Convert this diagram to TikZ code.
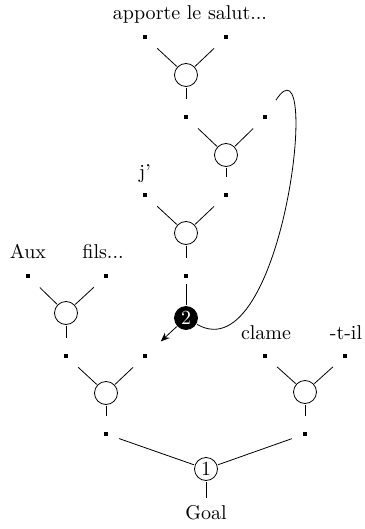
\documentclass[tikz,border=0pt]{standalone}
\usetikzlibrary{arrows.meta}
\begin{document}
\begin{tikzpicture}[x=0.5pt,y=-0.5pt,
  dotn/.style={rectangle,fill=black,minimum size=1.8pt,inner sep=0pt,outer sep=0pt},
  hub/.style={circle,draw,minimum size=11.5pt,inner sep=0pt,outer sep=0.6pt},
  blackhub/.style={hub,fill=black,text=white},
  labeltext/.style={anchor=base,inner sep=0pt},
  armline/.style={shorten <=7pt},
  stemline/.style={shorten >=8pt},
  lowline/.style={shorten <=6pt},
  arrowline/.style={-{Stealth[length=4.5pt,width=3.6pt]},shorten >=9.5pt},
  loopline/.style={shorten <=9pt}]
\useasboundingbox (0,0) rectangle (364,529);

% labels
\node[labeltext] (lapporte) at (190,20) {apporte le salut...};
\node[labeltext] (lj) at (145,179) {j'};
\node[labeltext] (laux) at (28,258.5) {Aux};
\node[labeltext] (lfils) at (103,258.5) {fils...};
\node[labeltext] (lclame) at (266,339) {clame};
\node[labeltext] (ltil) at (346,339) {-t-il};
\node[anchor=base] (goal) at (206,519.5) {Goal};

% dots
\node[dotn] (d1a) at (145,37) {};
\node[dotn] (d1b) at (226,37) {};
\node[dotn] (d2a) at (186,117) {};
\node[dotn] (d2b) at (265,117) {};
\node[dotn] (d3a) at (145,195) {};
\node[dotn] (d3b) at (226,195) {};
\node[dotn] (d3c) at (186,276) {};
\node[dotn] (d4a) at (28,276) {};
\node[dotn] (d4b) at (106,276) {};
\node[dotn] (d5a) at (66,356) {};
\node[dotn] (d5b) at (145,356) {};
\node[dotn] (d6a) at (265,356) {};
\node[dotn] (d6b) at (345,356) {};
\node[dotn] (d5c) at (106,434) {};
\node[dotn] (d6c) at (305,434) {};

% hubs
\node[hub] (c1) at (186,75) {};
\node[hub] (c2) at (226,155) {};
\node[hub] (c3) at (186,233) {};
\node[hub] (c4) at (66,313) {};
\node[hub] (c5) at (106,393) {};
\node[hub] (c6) at (305,392) {};
\node[hub] (n1) at (206,469) {1};
\node[blackhub] (n2) at (186,318) {2};

% arms
\draw[armline] (d1a) -- (c1);
\draw[armline] (d1b) -- (c1);
\draw[armline] (d2a) -- (c2);
\draw[armline] (d2b) -- (c2);
\draw[armline] (d3a) -- (c3);
\draw[armline] (d3b) -- (c3);
\draw[armline] (d4a) -- (c4);
\draw[armline] (d4b) -- (c4);
\draw[armline] (d5a) -- (c5);
\draw[armline] (d5b) -- (c5);
\draw[armline] (d6a) -- (c6);
\draw[armline] (d6b) -- (c6);

% stems
\draw[stemline] (c1) -- (d2a);
\draw[stemline] (c2) -- (d3b);
\draw[stemline] (c3) -- (d3c);
\draw[stemline] (c4) -- (d5a);
\draw[stemline] (c5) -- (d5c);
\draw[stemline] (c6) -- (d6c);

\draw[shorten <=3pt] (d3c) -- (n2);
\draw[lowline] (d5c) -- (n1);
\draw[lowline] (d6c) -- (n1);
\draw (n1) -- (goal);

\draw[arrowline] (n2) -- (d5b);
\draw[loopline] (d2b) to[out=57,in=-30,out distance=52pt,in distance=50pt] (n2);
\end{tikzpicture}
\end{document}
